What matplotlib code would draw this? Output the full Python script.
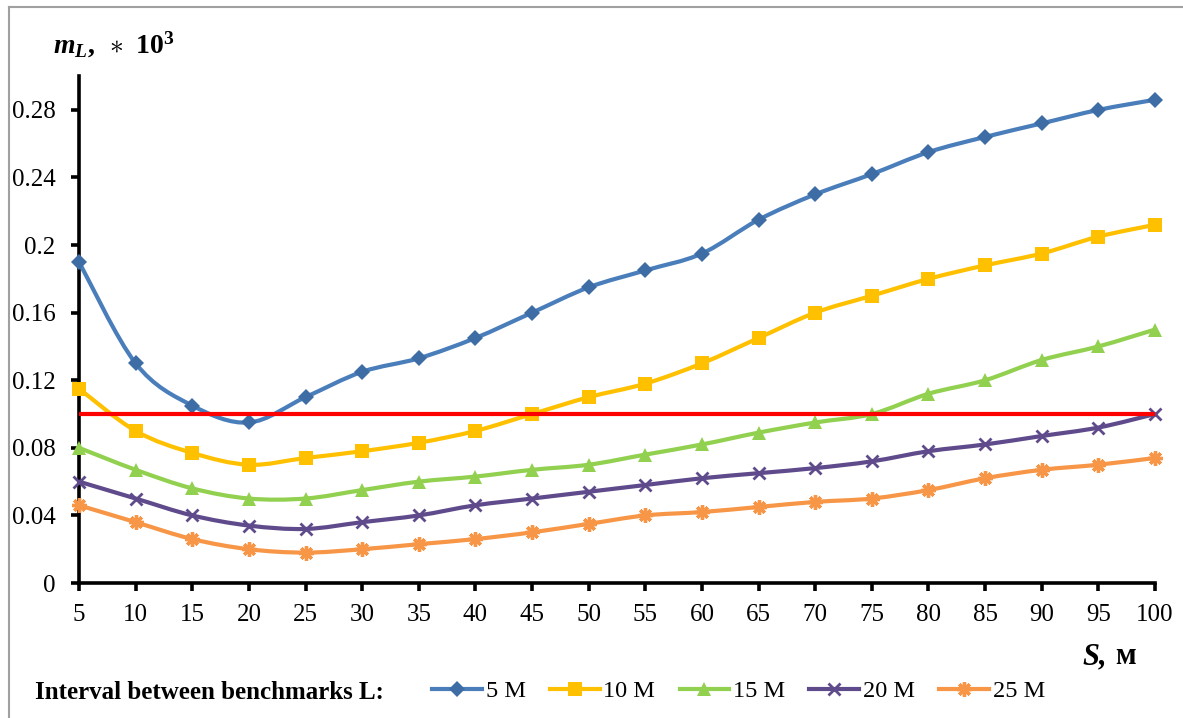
import numpy as np
import matplotlib
matplotlib.use("Agg")
import matplotlib.pyplot as plt
from matplotlib.path import Path
from matplotlib.patches import PathPatch
from matplotlib.lines import Line2D

# шаг S, м
S = np.arange(5, 101, 5)

# m_L * 10^3 для разных интервалов между реперами
m5 = [0.190, 0.130, 0.105, 0.095, 0.110, 0.125, 0.133, 0.145, 0.160, 0.175,
      0.185, 0.195, 0.215, 0.230, 0.242, 0.255, 0.264, 0.272, 0.280, 0.286]
m10 = [0.115, 0.090, 0.077, 0.070, 0.074, 0.078, 0.083, 0.090, 0.100, 0.110,
       0.118, 0.130, 0.145, 0.160, 0.170, 0.180, 0.188, 0.195, 0.205, 0.212]
m15 = [0.080, 0.067, 0.056, 0.050, 0.050, 0.055, 0.060, 0.063, 0.067, 0.070,
       0.076, 0.082, 0.089, 0.095, 0.100, 0.112, 0.120, 0.132, 0.140, 0.150]
m20 = [0.060, 0.050, 0.040, 0.034, 0.032, 0.036, 0.040, 0.046, 0.050, 0.054,
       0.058, 0.062, 0.065, 0.068, 0.072, 0.078, 0.082, 0.087, 0.092, 0.100]
m25 = [0.046, 0.036, 0.026, 0.020, 0.018, 0.020, 0.023, 0.026, 0.030, 0.035,
       0.040, 0.042, 0.045, 0.048, 0.050, 0.055, 0.062, 0.067, 0.070, 0.074]

limit = 0.1
labels = ["5 M", "10 M", "15 M", "20 M", "25 M"]


def smooth_path(x, y):
    # сглаженная линия как в Excel: кубические Безье через точки
    x = np.asarray(x, float)
    y = np.asarray(y, float)
    n = len(x)
    verts = [(x[0], y[0])]
    codes = [Path.MOVETO]
    for i in range(n - 1):
        i0 = max(i - 1, 0)
        i3 = min(i + 2, n - 1)
        c1 = (x[i] + (x[i + 1] - x[i0]) / 6, y[i] + (y[i + 1] - y[i0]) / 6)
        c2 = (x[i + 1] - (x[i3] - x[i]) / 6, y[i + 1] - (y[i3] - y[i]) / 6)
        verts += [c1, c2, (x[i + 1], y[i + 1])]
        codes += [Path.CURVE4] * 3
    return Path(verts, codes)


plt.rcParams.update({'font.family': 'Liberation Serif',
                     'mathtext.fontset': 'custom',
                     'mathtext.rm': 'Liberation Serif:bold',
                     'mathtext.it': 'Liberation Serif:italic:bold',
                     'mathtext.bf': 'Liberation Serif:bold'})

fig = plt.figure(figsize=(11.83, 7.18), dpi=100)
ax = fig.add_axes([0.0668, 0.188, 0.9095, 0.706])

series = [
    (m5, '#4A7EBB', '#3E6DA6', 'D', 8, 0),
    (m10, '#FFC000', '#FFC000', 's', 10.5, 0),
    (m15, '#92D050', '#92D050', '^', 10, 0),
    (m20, '#5F4B8B', '#5F4B8B', 'x', 9, 2),
    (m25, '#F79646', '#F79646', (8, 2, 0), 10.5, 2.4),
]

handles = []
for (vals, lc, mc, mk, ms, mew), lab in zip(series, labels):
    ax.add_patch(PathPatch(smooth_path(S, vals), fill=False, edgecolor=lc,
                           lw=3, zorder=3, capstyle='round', joinstyle='round'))
    ax.plot(S, vals, ls='none', marker=mk, ms=ms, color=mc, mec=mc,
            mew=mew, zorder=4, clip_on=False)
    handles.append(Line2D([], [], color=lc, lw=3, marker=mk, ms=ms,
                          mfc=mc, mec=mc, mew=mew))

ax.plot([S[0], S[-1]], [limit, limit], color='red', lw=3, zorder=5)

ax.set_xlim(5, 100)
ax.set_ylim(0, 0.30)
ax.set_xticks(S)
yt = np.arange(0, 0.281, 0.04)
ax.set_yticks(yt)
ax.set_yticklabels(['%g' % round(v, 2) for v in yt])

for side in ('top', 'right'):
    ax.spines[side].set_visible(False)
for side in ('left', 'bottom'):
    ax.spines[side].set_linewidth(2.6)
ax.tick_params(axis='both', labelsize=18, width=2.6, length=6,
               direction='out')
ax.tick_params(axis='y', pad=11)
ax.tick_params(axis='x', pad=9)

fig.text(0.045, 0.938, r'$m_L,\ \ast\ \mathbf{10^3}$', fontsize=20,
         ha='left', va='center')
fig.text(0.915, 0.085, 'S,', fontsize=22, fontweight='bold',
         fontstyle='italic', ha='left', va='center')
fig.text(0.943, 0.085, 'м', fontsize=22, fontweight='bold',
         ha='left', va='center')

fig.text(0.030, 0.035, 'Interval between benchmarks L:', fontsize=18,
         fontweight='bold', ha='left', va='center')
fig.legend(handles, labels, loc='center left', bbox_to_anchor=(0.355, 0.037),
           ncol=5, frameon=False, fontsize=17.5, handlelength=2.05,
           handletextpad=0.15, columnspacing=1.0, borderpad=0)

# серая рамка слева и сверху
fig.add_artist(Line2D([0.0076, 0.0076], [0, 0.990], transform=fig.transFigure,
                      color='#A0A0A0', lw=1.5))
fig.add_artist(Line2D([0.0076, 1], [0.990, 0.990], transform=fig.transFigure,
                      color='#A0A0A0', lw=1.5))

fig.savefig('out.png', dpi=100)
